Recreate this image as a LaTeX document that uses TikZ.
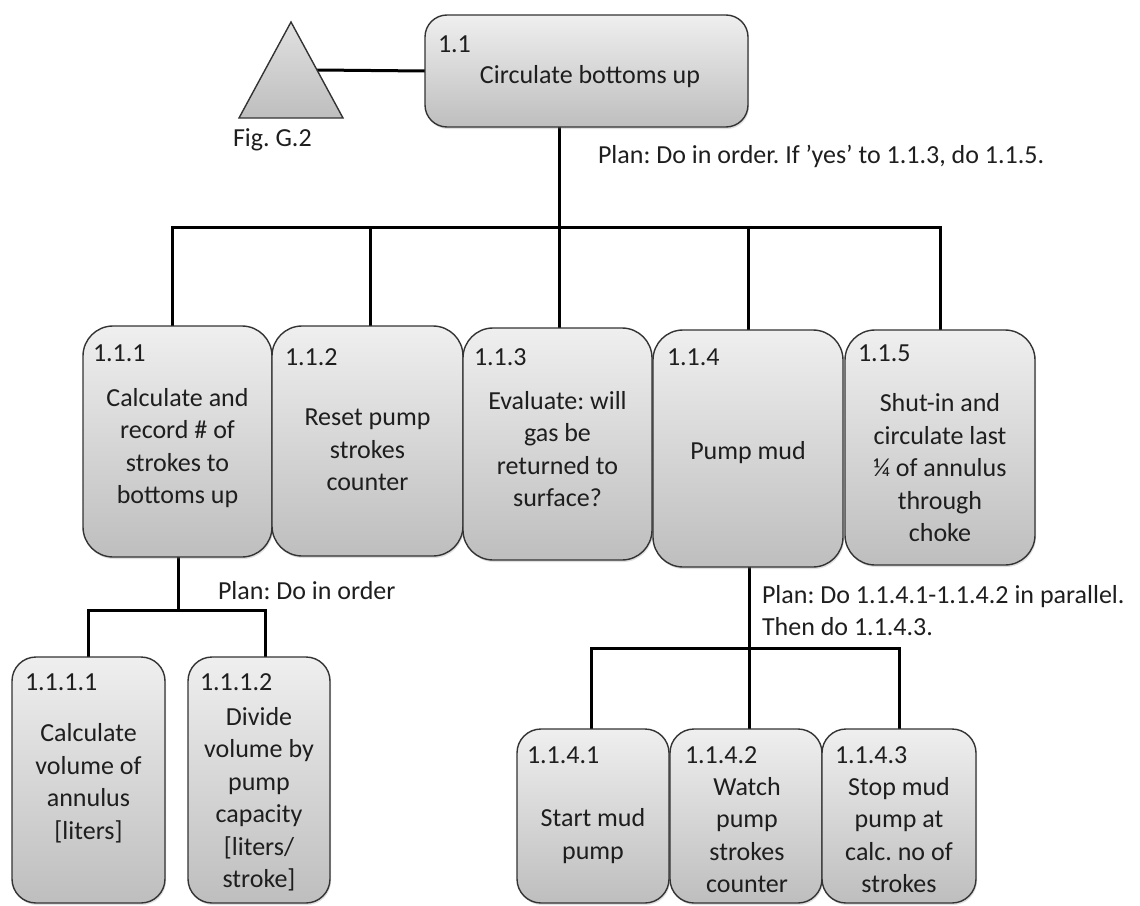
\documentclass[tikz,border=0pt]{standalone}
\usepackage{fontspec}
\setmainfont{Carlito}
\frenchspacing
\usetikzlibrary{shadows}
\pgfdeclarelayer{background}
\pgfsetlayers{background,main}
\definecolor{boxtop}{HTML}{EFEFEF}
\definecolor{boxbot}{HTML}{BEBEBE}
\definecolor{boxline}{HTML}{333333}
\definecolor{ink}{HTML}{1E1E1E}
\begin{document}
\begin{tikzpicture}[x=1pt,y=-1pt,
  every node/.style={font=\fontsize{26}{32.5}\selectfont, text=ink, inner sep=0pt, outer sep=0pt},
  box/.style={draw=boxline, line width=1.4pt, top color=boxtop, bottom color=boxbot,
    drop shadow={opacity=0.25, shadow xshift=1pt, shadow yshift=-2pt}},
  txt/.style={align=center},
  num/.style={anchor=base west},
  link/.style={draw=black, line width=3pt}]
\useasboundingbox (0,0) rectangle (1140,905);

% task boxes
\node[box, rounded corners=22pt, minimum width=323pt, minimum height=112pt] (b1) at (586.5,71) {};
\node[box, rounded corners=30pt, minimum width=189pt, minimum height=231pt] (b111) at (177.5,441.5) {};
\node[box, rounded corners=30pt, minimum width=191pt, minimum height=230pt] (b112) at (367.5,441) {};
\node[box, rounded corners=30pt, minimum width=189pt, minimum height=232pt] (b113) at (557.5,444) {};
\node[box, rounded corners=30pt, minimum width=190pt, minimum height=237pt] (b114) at (748,448.5) {};
\node[box, rounded corners=30pt, minimum width=190pt, minimum height=235pt] (b115) at (940,447.5) {};
\node[box, rounded corners=24pt, minimum width=153pt, minimum height=246pt] (b1111) at (88.5,780) {};
\node[box, rounded corners=24pt, minimum width=142pt, minimum height=246pt] (b1112) at (259,780) {};
\node[box, rounded corners=24pt, minimum width=152pt, minimum height=174pt] (b1141) at (593,816) {};
\node[box, rounded corners=24pt, minimum width=152pt, minimum height=174pt] (b1142) at (746,816) {};
\node[box, rounded corners=24pt, minimum width=154pt, minimum height=174pt] (b1143) at (899,816) {};

% reference triangle
\path[draw=boxline, line width=1.4pt, top color=boxtop!70!boxbot, bottom color=boxbot]
  (291,22) -- (343,118) -- (239,118) -- cycle;
\coordinate (tri) at (317,70);
\node[anchor=base west] (fig) at (233,146) {Fig. G.2};

% connectors
\coordinate (j1) at (559,227);
\coordinate (j2) at (178,610);
\coordinate (j3) at (749,648);
\begin{pgfonlayer}{background}
\draw[link] (tri) -- (b1.west);
\draw[link] (b1.south -| j1) -- (j1);
\draw[link] (j1) -| ([xshift=-5.5pt]b111.north);
\draw[link] (j1) -| ([xshift=2.5pt]b112.north);
\draw[link] (j1) -- (b113.north -| j1);
\draw[link] (j1) -| (b114.north);
\draw[link] (j1) -| (b115.north);
\draw[link] (b111.south -| j2) -- (j2);
\draw[link] (j2) -| (b1111.north);
\draw[link] (j2) -| ([xshift=6pt]b1112.north);
\draw[link] (b114.south -| j3) -- (j3);
\draw[link] (j3) -| ([xshift=-2pt]b1141.north);
\draw[link] (j3) -- (b1142.north -| j3);
\draw[link] (j3) -| (b1143.north);
\end{pgfonlayer}

% numbers
\node[num] (n1) at (438,52) {1.1};
\node[num] (n111) at (93,361) {1.1.1};
\node[num] (n112) at (285,365) {1.1.2};
\node[num] (n113) at (474,365) {1.1.3};
\node[num] (n114) at (667,365) {1.1.4};
\node[num] (n115) at (858,361) {1.1.5};
\node[num] (n1111) at (25,690) {1.1.1.1};
\node[num] (n1112) at (200,690) {1.1.1.2};
\node[num] (n1141) at (527,763) {1.1.4.1};
\node[num] (n1142) at (685,763) {1.1.4.2};
\node[num] (n1143) at (835,763) {1.1.4.3};

% task texts
\node[txt] (t1) at (590,77) {Circulate bottoms up};
\node[txt] (t111) at (177.5,448) {Calculate and\\record \# of\\strokes to\\bottoms up};
\node[txt] (t112) at (367.5,450) {Reset pump\\strokes\\counter};
\node[txt] (t113) at (557.5,449) {Evaluate: will\\gas be\\returned to\\surface?};
\node[txt] (t114) at (748,453) {Pump mud};
\node[txt] (t115) at (940,468) {Shut-in and\\circulate last\\¼ of annulus\\through\\choke};
\node[txt] (t1111) at (88.5,783) {Calculate\\volume of\\annulus\\{[liters]}};
\node[txt] (t1112) at (259,799) {Divide\\volume by\\pump\\capacity\\{[liters/}\\stroke]};
\node[txt] (t1141) at (593,836) {Start mud\\pump};
\node[txt] (t1142) at (747,835) {Watch\\pump\\strokes\\counter};
\node[txt] (t1143) at (899,835) {Stop mud\\pump at\\calc. no of\\strokes};

% plans
\node[anchor=base west] (p1) at (598,163) {Plan: Do in order. If ’yes’ to 1.1.3, do 1.1.5.};
\node[anchor=base west] (p111) at (218,599) {Plan: Do in order};
\node[anchor=base west] (p114a) at (762,603) {Plan: Do 1.1.4.1-1.1.4.2 in parallel.};
\node[anchor=base west] (p114b) at (762,635) {Then do 1.1.4.3.};
\end{tikzpicture}
\end{document}
